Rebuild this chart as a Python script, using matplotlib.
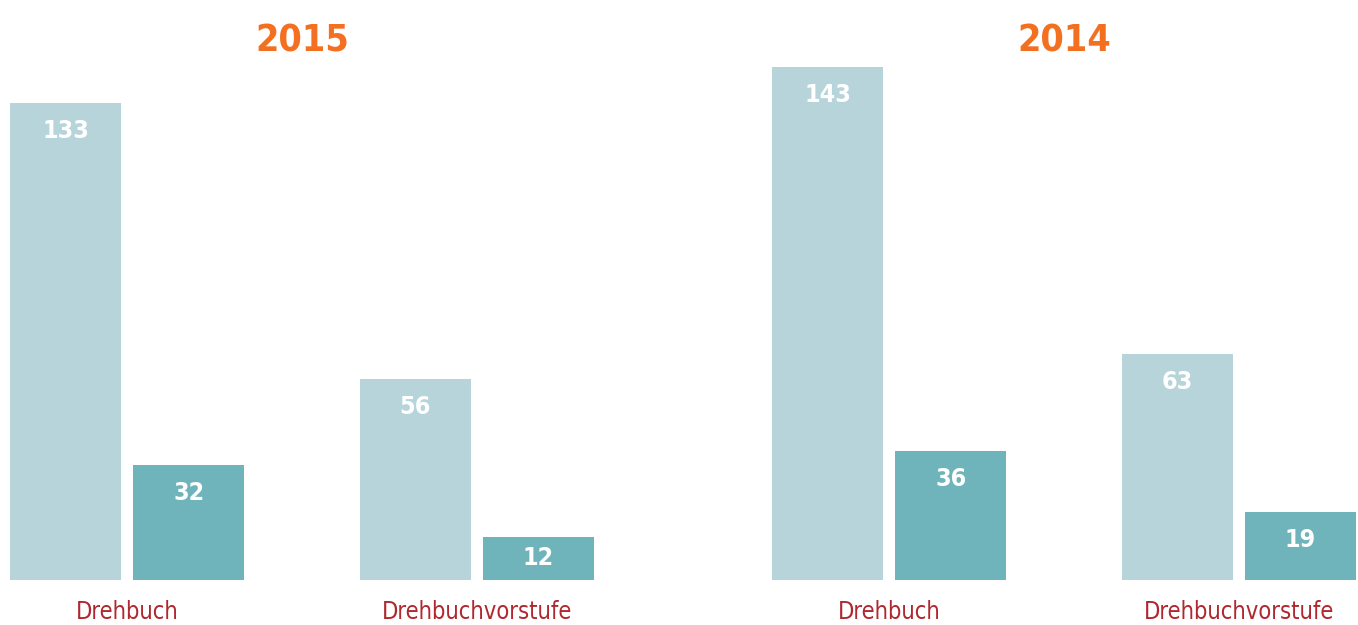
import matplotlib
matplotlib.use("Agg")
import matplotlib.pyplot as plt
from matplotlib import font_manager as fm

years = ["2015", "2014"]
categories = ["Drehbuch", "Drehbuchvorstufe"]
submitted = {"2015": [133, 56], "2014": [143, 63]}
funded = {"2015": [32, 12], "2014": [36, 19]}

LIGHT = "#b6d4d9"
DARK = "#6fb3bb"
ORANGE = "#f37021"
RED = "#b0282f"

names = {f.name for f in fm.fontManager.ttflist}
cond = "Liberation Sans Narrow" if "Liberation Sans Narrow" in names else "DejaVu Sans"

fig = plt.figure(figsize=(13.58, 6.25), dpi=100)
W, H = 1358, 625
bw, off = 0.318, 0.352
lefts = [10, 772]
for year, left in zip(years, lefts):
    ax = fig.add_axes([left / W, 45 / H, 584 / W, 538 / H])
    for i, cat in enumerate(categories):
        for val, dx, col in [(submitted[year][i], -off / 2, LIGHT), (funded[year][i], off / 2, DARK)]:
            ax.bar(i + dx, val, width=bw, color=col, linewidth=0)
            # label sits near the top, or in the middle for short bars
            ax.text(i + dx, max(val - 7.8, val / 2), str(val), ha="center", va="center",
                    color="white", fontsize=18, fontweight="bold", family=cond,
                    fontstretch="condensed")
        ax.text(i, -9, cat, ha="center", va="center", color=RED,
                fontsize=17, family=cond, fontstretch="condensed")
    ax.set_xlim(-0.335, 1.335)
    ax.set_ylim(0, 150)
    ax.axis("off")
    ax.text(0.5, 147.3, year, ha="center", va="baseline", color=ORANGE, fontsize=27,
            fontweight="bold", family=cond, fontstretch="condensed", clip_on=False)

fig.savefig("out.png", dpi=100)
